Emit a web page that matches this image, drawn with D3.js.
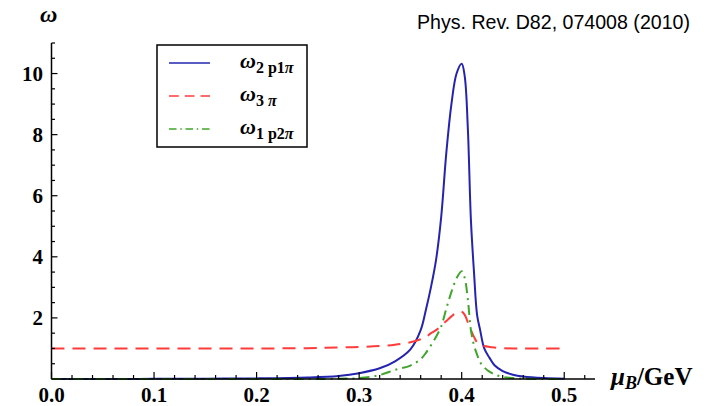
<!DOCTYPE html>
<html>
<head>
<meta charset="utf-8">
<script src="https://cdn.jsdelivr.net/npm/d3@7"></script>
<style>
  body { margin: 0; background: #fff; }
  svg { display: block; }
</style>
</head>
<body>
<svg id="chart" width="708" height="406"></svg>
<script>
// baryon chemical potential (GeV)
const mu = [0, 0.05, 0.1, 0.15, 0.2, 0.25, 0.28, 0.3, 0.32, 0.335, 0.35, 0.36, 0.365, 0.37, 0.375, 0.38, 0.385,
  0.39, 0.395, 0.4, 0.403, 0.406, 0.409, 0.412, 0.415, 0.418, 0.422, 0.427, 0.432, 0.44, 0.45, 0.46, 0.48, 0.5];

// omega_2p1pi (blue)
const omega2p1pi = [0, 0, 0.005, 0.01, 0.02, 0.05, 0.1, 0.19, 0.35, 0.58, 0.97, 1.6, 2.25, 3.0, 3.9, 5.3, 7.4,
  9.0, 10.0, 10.32, 9.9, 8.2, 5.2, 3.5, 2.1, 1.6, 1.0, 0.7, 0.45, 0.26, 0.14, 0.08, 0.03, 0.01];

// omega_3pi (red)
const omega3pi = [1.0, 1.0, 1.0, 1.0, 1.0, 1.01, 1.03, 1.05, 1.08, 1.12, 1.2, 1.3, 1.37, 1.5, 1.6, 1.75, 1.9,
  2.05, 2.17, 2.2, 2.1, 1.85, 1.6, 1.38, 1.2, 1.13, 1.08, 1.05, 1.03, 1.01, 1.0, 1.0, 1.0, 1.0];

// omega_1p2pi (green)
const omega1p2pi = [0, 0, 0, 0, 0, 0, 0.01, 0.03, 0.13, 0.3, 0.44, 0.65, 0.85, 1.1, 1.38, 1.72, 2.3,
  2.85, 3.3, 3.53, 3.3, 2.6, 1.6, 1.1, 0.8, 0.55, 0.38, 0.24, 0.15, 0.07, 0.03, 0.01, 0, 0];

const xTicks = [0.0, 0.1, 0.2, 0.3, 0.4, 0.5];
const yTicks = [2, 4, 6, 8, 10];

const series = [
  { sub: '2 p1', values: omega2p1pi, color: '#2424b0', dash: null },
  { sub: '3 ', values: omega3pi, color: '#ff3b3b', dash: '13,8' },
  { sub: '1 p2', values: omega1p2pi, color: '#3fa62a', dash: '10,5,2,5' }
];

const svg = d3.select('#chart');
const x = d3.scaleLinear().domain([0, 0.53]).range([51.5, 595]);
const y = d3.scaleLinear().domain([0, 11]).range([379, 43]);
const serif = '"Liberation Serif", "DejaVu Serif", serif';

// curves
const line = d3.line()
  .x((d, i) => x(mu[i]))
  .y(d => y(d))
  .curve(d3.curveCatmullRom.alpha(0.5));

series.forEach(s => {
  svg.append('path')
    .attr('d', line(s.values))
    .attr('fill', 'none')
    .attr('stroke', s.color)
    .attr('stroke-width', 2)
    .attr('stroke-dasharray', s.dash);
});

// x axis
const xAxis = svg.append('g');
xAxis.append('line')
  .attr('x1', x(0)).attr('x2', x(0.53))
  .attr('y1', y(0)).attr('y2', y(0))
  .attr('stroke', '#000').attr('stroke-width', 1.5);
d3.range(0, 53).filter(i => i % 2 === 0).forEach(i => {
  const v = i / 100;
  const major = i % 10 === 0;
  xAxis.append('line')
    .attr('x1', x(v)).attr('x2', x(v))
    .attr('y1', y(0)).attr('y2', y(0) - (major ? 7 : 4))
    .attr('stroke', '#000').attr('stroke-width', 1.2);
});
xAxis.selectAll('text.xt')
  .data(xTicks)
  .join('text')
  .attr('class', 'xt')
  .attr('x', d => x(d))
  .attr('y', 402)
  .attr('text-anchor', 'middle')
  .style('font-family', serif)
  .style('font-weight', 'bold')
  .style('font-size', '21px')
  .text(d => d.toFixed(1));

// y axis
const yAxis = svg.append('g');
yAxis.append('line')
  .attr('x1', x(0)).attr('x2', x(0))
  .attr('y1', y(0)).attr('y2', y(11))
  .attr('stroke', '#000').attr('stroke-width', 1.5);
d3.range(1, 23).forEach(i => {
  const v = i / 2;
  const major = i % 4 === 0;
  yAxis.append('line')
    .attr('x1', x(0)).attr('x2', x(0) + (major ? 6 : 3.5))
    .attr('y1', y(v)).attr('y2', y(v))
    .attr('stroke', '#000').attr('stroke-width', 1.2);
});
yAxis.selectAll('text.yt')
  .data(yTicks)
  .join('text')
  .attr('class', 'yt')
  .attr('x', 43)
  .attr('y', d => y(d) + 7)
  .attr('text-anchor', 'end')
  .style('font-family', serif)
  .style('font-weight', 'bold')
  .style('font-size', '21px')
  .text(d => d);

// axis titles
svg.append('text')
  .attr('x', 40).attr('y', 22)
  .style('font-family', serif)
  .style('font-weight', 'bold')
  .style('font-style', 'italic')
  .style('font-size', '24px')
  .text('ω');

const xt = svg.append('text')
  .attr('x', 611).attr('y', 385)
  .style('font-family', serif)
  .style('font-weight', 'bold')
  .style('font-size', '25px');
xt.append('tspan').style('font-style', 'italic').text('μ');
xt.append('tspan').style('font-style', 'italic').style('font-size', '18px').attr('dy', 4).text('B');
xt.append('tspan').attr('dy', -4).text('/GeV');

svg.append('text')
  .attr('x', 690).attr('y', 29)
  .attr('text-anchor', 'end')
  .style('font-family', 'Arial, "Liberation Sans", sans-serif')
  .style('font-size', '19.6px')
  .text('Phys. Rev. D82, 074008 (2010)');

// legend
const legend = svg.append('g');
legend.append('rect')
  .attr('x', 157).attr('y', 45)
  .attr('width', 150).attr('height', 102)
  .attr('fill', '#fff')
  .attr('stroke', '#000').attr('stroke-width', 1.5);
series.forEach((s, i) => {
  const ly = 63 + i * 33;
  legend.append('line')
    .attr('x1', 169).attr('x2', 210)
    .attr('y1', ly).attr('y2', ly)
    .attr('stroke', s.color).attr('stroke-width', 1.5)
    .attr('stroke-dasharray', s.dash ? s.dash.split(',').map(v => v * 0.75).join(',') : null);
  const t = legend.append('text')
    .attr('x', 240).attr('y', ly + 5)
    .style('font-family', serif)
    .style('font-weight', 'bold')
    .style('font-size', '22px');
  t.append('tspan').style('font-style', 'italic').text('ω');
  t.append('tspan').style('font-size', '16px').attr('dy', 5).text(s.sub);
  t.append('tspan').style('font-size', '16px').style('font-style', 'italic').text('π');
});
</script>
</body>
</html>
